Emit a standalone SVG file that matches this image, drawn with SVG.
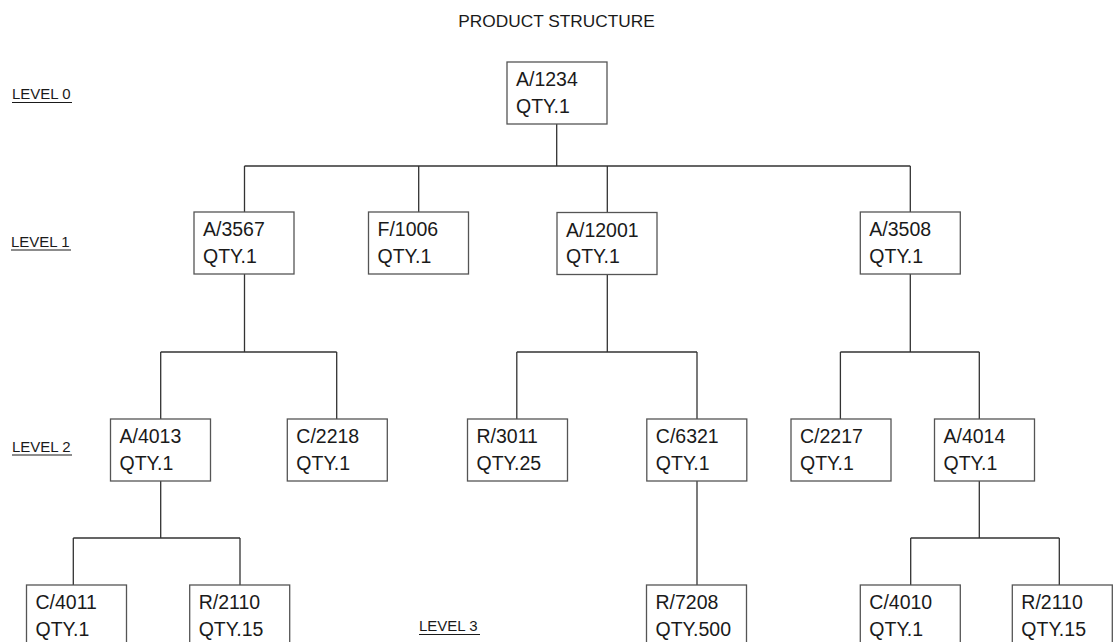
<svg xmlns="http://www.w3.org/2000/svg" width="1114" height="642" viewBox="0 0 1114 642">
<style>
.box{fill:#fff;stroke:#555;stroke-width:1.3}
.t{font-family:"Liberation Sans",Arial,sans-serif;font-size:19.5px;fill:#1a1a1a}
.lvl{font-family:"Liberation Sans",Arial,sans-serif;font-size:15px;fill:#1a1a1a}
.ul{stroke:#1a1a1a;stroke-width:1.2}
.c{fill:none;stroke:#333;stroke-width:1.3}
</style>
<rect width="1114" height="642" fill="#fff"/>
<text x="556.5" y="27" text-anchor="middle" class="t" style="font-size:17.3px">PRODUCT STRUCTURE</text>
<g id="levels">
<text x="12" y="99" class="lvl">LEVEL 0</text><line x1="12" y1="102.5" x2="72" y2="102.5" class="ul"/>
<text x="11" y="246.5" class="lvl">LEVEL 1</text><line x1="11" y1="250" x2="71" y2="250" class="ul"/>
<text x="12" y="451.5" class="lvl">LEVEL 2</text><line x1="12" y1="455" x2="72" y2="455" class="ul"/>
<text x="419" y="631" class="lvl">LEVEL 3</text><line x1="419" y1="634.5" x2="480" y2="634.5" class="ul"/>
</g>
<g id="connectors">
<path class="c" d="M556.7 124V166M244.5 166H910.3M244.5 166V212M418.7 166V212M607.3 166V212M910.3 166V212"/>
<path class="c" d="M244.5 274V352M160.7 352H336.7M160.7 352V419M336.7 352V419"/>
<path class="c" d="M607.3 274V352M516.8 352H697M516.8 352V419M697 352V419"/>
<path class="c" d="M910.3 274V352M840.4 352H979.3M840.4 352V419M979.3 352V419"/>
<path class="c" d="M160.7 481V538M73.3 538H240M73.3 538V585M240 538V585"/>
<path class="c" d="M697 481V585"/>
<path class="c" d="M979.3 481V538M910.7 538H1059.3M910.7 538V585M1059.3 538V585"/>
</g>
<g id="n_A1234"><rect class="box" x="507" y="62" width="100" height="62"/><text class="t" x="516" y="86">A/1234</text><text class="t" x="516" y="112.5">QTY.1</text></g>
<g id="n_A3567"><rect class="box" x="194" y="212" width="100" height="62"/><text class="t" x="203" y="236">A/3567</text><text class="t" x="203" y="262.5">QTY.1</text></g>
<g id="n_F1006"><rect class="box" x="368.5" y="212" width="100" height="62"/><text class="t" x="377.5" y="236">F/1006</text><text class="t" x="377.5" y="262.5">QTY.1</text></g>
<g id="n_A12001"><rect class="box" x="557" y="212.5" width="100" height="62"/><text class="t" x="566" y="236.5">A/12001</text><text class="t" x="566" y="263">QTY.1</text></g>
<g id="n_A3508"><rect class="box" x="860.3" y="212" width="100" height="62"/><text class="t" x="869.3" y="236">A/3508</text><text class="t" x="869.3" y="262.5">QTY.1</text></g>
<g id="n_A4013"><rect class="box" x="110.5" y="419" width="100" height="62"/><text class="t" x="119.5" y="443">A/4013</text><text class="t" x="119.5" y="469.5">QTY.1</text></g>
<g id="n_C2218"><rect class="box" x="287.3" y="419" width="100" height="62"/><text class="t" x="296.3" y="443">C/2218</text><text class="t" x="296.3" y="469.5">QTY.1</text></g>
<g id="n_R3011"><rect class="box" x="467.5" y="419" width="100" height="62"/><text class="t" x="476.5" y="443">R/3011</text><text class="t" x="476.5" y="469.5">QTY.25</text></g>
<g id="n_C6321"><rect class="box" x="646.8" y="419" width="100" height="62"/><text class="t" x="655.8" y="443">C/6321</text><text class="t" x="655.8" y="469.5">QTY.1</text></g>
<g id="n_C2217"><rect class="box" x="791" y="419" width="100" height="62"/><text class="t" x="800" y="443">C/2217</text><text class="t" x="800" y="469.5">QTY.1</text></g>
<g id="n_A4014"><rect class="box" x="934.5" y="419" width="100" height="62"/><text class="t" x="943.5" y="443">A/4014</text><text class="t" x="943.5" y="469.5">QTY.1</text></g>
<g id="n_C4011"><rect class="box" x="26.5" y="585" width="100" height="62"/><text class="t" x="35.5" y="609">C/4011</text><text class="t" x="35.5" y="635.5">QTY.1</text></g>
<g id="n_R2110a"><rect class="box" x="189.7" y="585" width="100" height="62"/><text class="t" x="198.7" y="609">R/2110</text><text class="t" x="198.7" y="635.5">QTY.15</text></g>
<g id="n_R7208"><rect class="box" x="646.5" y="585" width="100" height="62"/><text class="t" x="655.5" y="609">R/7208</text><text class="t" x="655.5" y="635.5">QTY.500</text></g>
<g id="n_C4010"><rect class="box" x="860.3" y="585" width="100" height="62"/><text class="t" x="869.3" y="609">C/4010</text><text class="t" x="869.3" y="635.5">QTY.1</text></g>
<g id="n_R2110b"><rect class="box" x="1012.3" y="585" width="100" height="62"/><text class="t" x="1021.3" y="609">R/2110</text><text class="t" x="1021.3" y="635.5">QTY.15</text></g>
</svg>
